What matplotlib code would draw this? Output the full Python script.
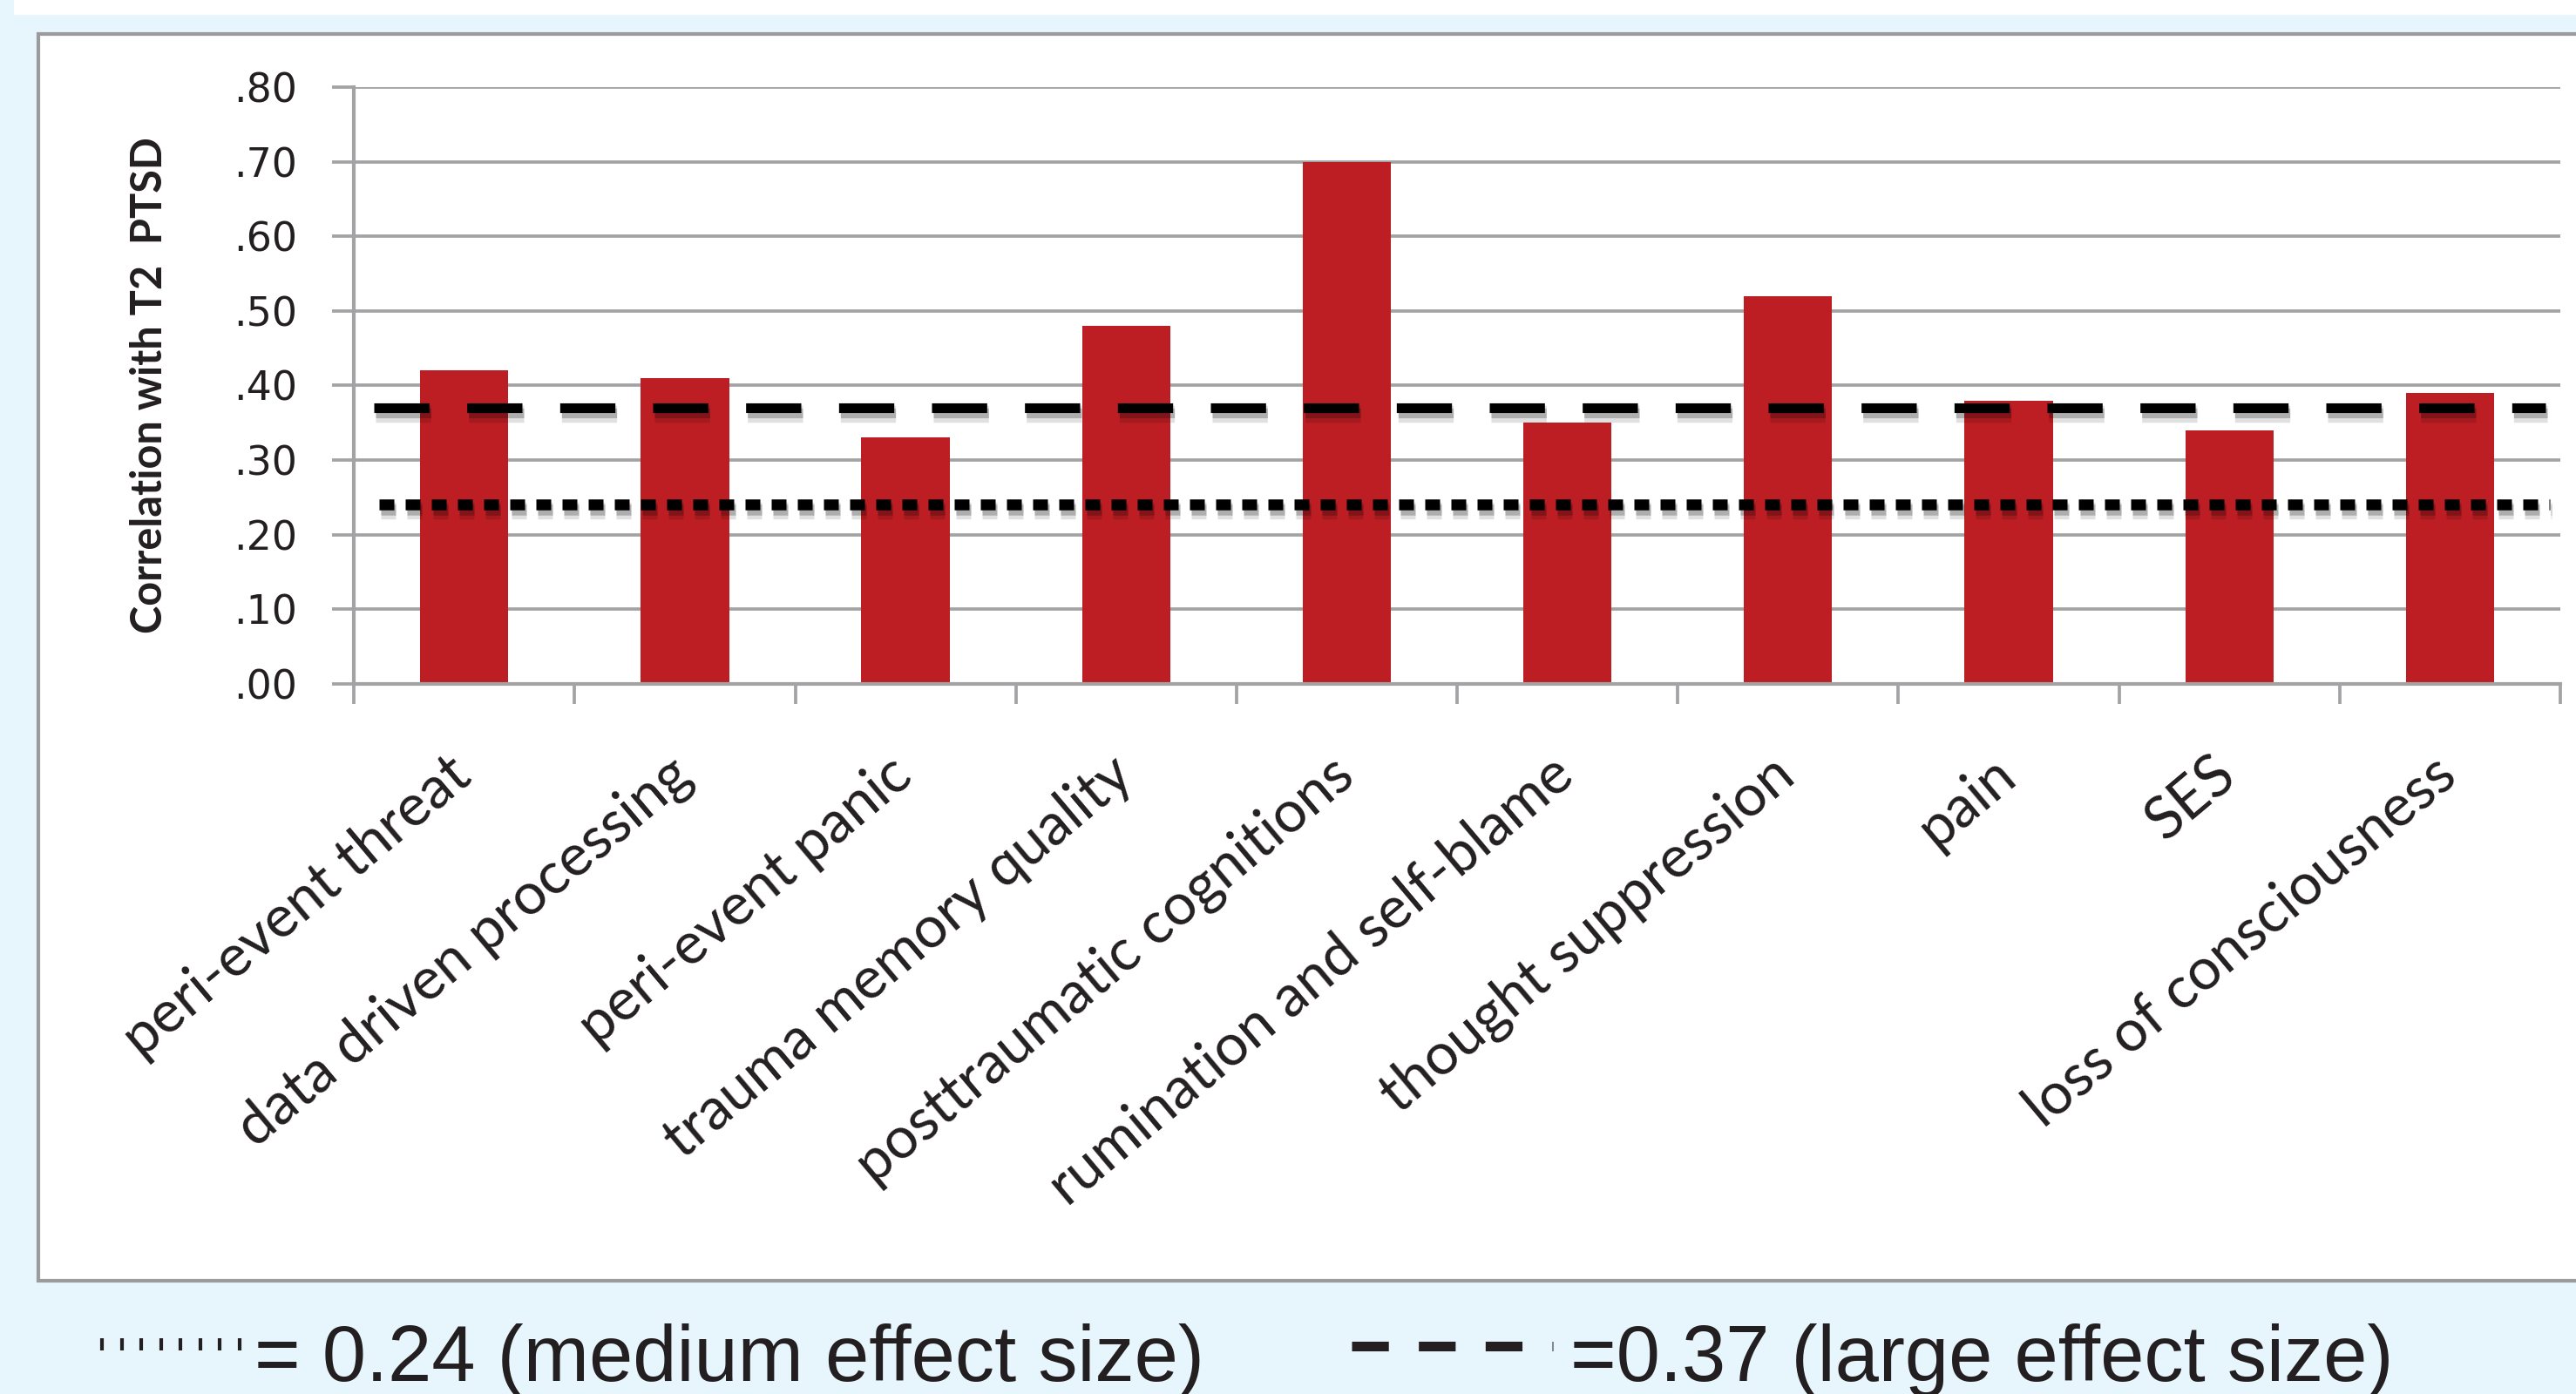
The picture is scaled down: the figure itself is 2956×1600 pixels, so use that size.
import matplotlib.pyplot as plt
import matplotlib.patheffects as pe
from matplotlib.patches import Rectangle
from matplotlib.lines import Line2D
from matplotlib.transforms import ScaledTranslation
import numpy as np

# Predictors of T2 PTSD and their correlations
predictors = ["peri-event threat", "data driven processing", "peri-event panic",
              "trauma memory quality", "posttraumatic cognitions",
              "rumination and self-blame", "thought suppression", "pain", "SES",
              "loss of consciousness"]
correlations = [0.42, 0.41, 0.33, 0.48, 0.70, 0.35, 0.52, 0.38, 0.34, 0.39]

# Reference effect sizes
medium_effect = 0.24
large_effect = 0.37

y_ticks = [0.0, 0.1, 0.2, 0.3, 0.4, 0.5, 0.6, 0.7, 0.8]
y_tick_labels = ['.00', '.10', '.20', '.30', '.40', '.50', '.60', '.70', '.80']

bg_blue = '#E7F5FD'
grid_gray = '#A3A3A5'
bar_red = '#BC1E24'
text_dark = '#231F20'

fig = plt.figure(figsize=(29.56, 16), dpi=100, facecolor=bg_blue)

# white strip on top and the framed chart area
fig.add_artist(Rectangle((0.0054, 0.9894), 1.0, 0.02, transform=fig.transFigure,
                         facecolor='white', edgecolor='none', zorder=-2))
fig.add_artist(Rectangle((0.0149, 0.0813), 1.0, 0.8944, transform=fig.transFigure,
                         facecolor='white', edgecolor='#9B9B9D', linewidth=3, zorder=-1))

ax = fig.add_axes([0.1374, 0.5094, 0.8565, 0.4281])
ax.set_facecolor('none')

x = np.arange(len(predictors))
ax.bar(x, correlations, width=0.4, color=bar_red, zorder=2)

shadow = [pe.SimpleLineShadow(offset=(1.5, -5), shadow_color='black', alpha=0.12, linewidth=14),
          pe.SimpleLineShadow(offset=(1.5, -4), shadow_color='black', alpha=0.22),
          pe.Normal()]

ax.axhline(large_effect, xmin=0.009, xmax=0.9933, color='black', linewidth=8,
           linestyle=(0, (5.7, 3.9)), zorder=4, path_effects=shadow)
ax.axhline(medium_effect, xmin=0.0115, xmax=0.9953, color='black', linewidth=9,
           linestyle=(0, (1.36, 1.04)), zorder=4, path_effects=shadow)

ax.set_xlim(-0.5, len(predictors) - 0.5)
ax.set_ylim(0, 0.8)

ax.set_yticks(y_ticks)
ax.set_yticklabels(y_tick_labels, fontsize=33, color=text_dark, family='DejaVu Sans')
ax.tick_params(axis='y', length=18, width=2.7, color=grid_gray, pad=29)

ax.yaxis.grid(True, color=grid_gray, linewidth=2.7)
ax.set_axisbelow(True)

ax.set_xticks(x)
ax.set_xticklabels(predictors, rotation=40, ha='right', rotation_mode='anchor',
                   fontsize=48, color=text_dark, family='Lato')
ax.set_xticks(np.arange(len(predictors) + 1) - 0.5, minor=True)
ax.tick_params(axis='x', which='major', length=0, pad=52)
ax.tick_params(axis='x', which='minor', length=16.5, width=2.7, color=grid_gray)

shift = ScaledTranslation(-0.21, 0, fig.dpi_scale_trans)
for lbl in ax.get_xticklabels():
    lbl.set_transform(lbl.get_transform() + shift)

for side in ['top', 'right']:
    ax.spines[side].set_visible(False)
for side in ['left', 'bottom']:
    ax.spines[side].set_color(grid_gray)
    ax.spines[side].set_linewidth(3)

ax.set_ylabel('Correlation with T2  PTSD', fontsize=35, fontweight='bold', color=text_dark,
              family=['Liberation Sans Narrow', 'Lato'], va='center')
ax.yaxis.set_label_coords(-0.0928, 0.5)

# effect size key below the chart
fig.add_artist(Line2D(np.linspace(117, 275, 8) / 2956, [0.0356] * 8, transform=fig.transFigure,
                      linestyle='none', marker='|', markersize=9.5, markeredgewidth=3,
                      color=text_dark))
fig.text(292 / 2956, 0.0094, '= 0.24 (medium effect size)', fontsize=65, color=text_dark,
         family='Liberation Sans', ha='left', va='baseline')
fig.add_artist(Line2D([1551 / 2956, 1782 / 2956], [0.0344, 0.0344], transform=fig.transFigure,
                      color=text_dark, linewidth=8, linestyle=(0, (3.8, 3.1))))
fig.text(1802 / 2956, 0.0094, '=0.37 (large effect size)', fontsize=65, color=text_dark,
         family='Liberation Sans', ha='left', va='baseline')

plt.savefig('out.png', dpi=100, facecolor=bg_blue)
